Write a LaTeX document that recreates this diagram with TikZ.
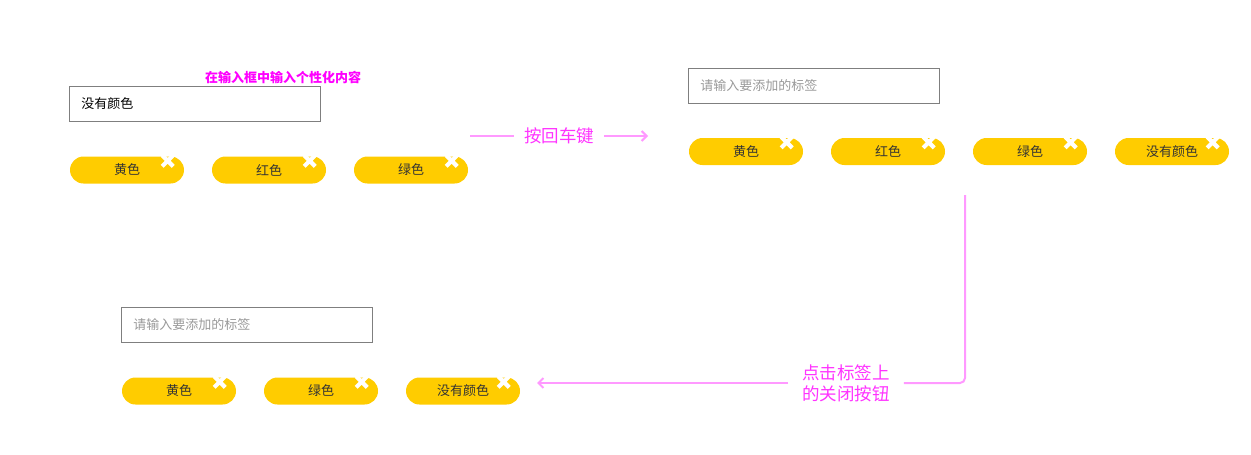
\documentclass[tikz,border=0pt]{standalone}
\usepackage{fontspec}
\setmainfont{Noto Sans CJK SC}
\usetikzlibrary{arrows, arrows.meta, positioning}
\definecolor{tagyellow}{HTML}{FFCC00}
\definecolor{boxgray}{HTML}{7F7F7F}
\definecolor{hintgray}{HTML}{999999}
\definecolor{linkpink}{HTML}{FF99FF}
\definecolor{notemagenta}{HTML}{FF33FF}
\definecolor{titlemagenta}{HTML}{FF00FF}
\newcommand{\closemark}[1]{\draw[closex, shift={(#1.north east)}] (-22,-1) -- (-11,10) (-22,10) -- (-11,-1);}

\begin{document}
\begin{tikzpicture}[x=1pt, y=-1pt, node distance=142pt]
% Define styles
\tikzstyle{inputbox} = [rectangle, draw=boxgray, line width=0.9pt, minimum height=35pt, text width=227pt, inner xsep=12pt, align=left, anchor=west, font=\fontsize{13}{15}\selectfont]
\tikzstyle{tag} = [rectangle, rounded corners=13.5pt, minimum width=114pt, minimum height=27pt, fill=tagyellow, text=black!80, font=\fontsize{13}{15}\selectfont]
\tikzstyle{closex} = [white, line width=4.2pt]
\tikzstyle{link} = [linkpink, line width=2pt]
\tikzstyle{arrow} = [link, ->, >={Straight Barb[length=5pt, width=10pt]}]
\tikzstyle{note} = [text=notemagenta, align=center, font=\fontsize{17.5}{21}\selectfont]

\useasboundingbox (0,0) rectangle (1251,455);

% Nodes
\node (hint) [text=titlemagenta, font=\bfseries\fontsize{13}{15}\selectfont] at (283,77) {在输入框中输入个性化内容};
\node (inputA) [inputbox] at (69,103.5) {没有颜色};
\node (yellowA) [tag] at (127,170) {黄色};
\node (redA) [tag, right of=yellowA] {红色};
\node (greenA) [tag, right of=redA] {绿色};

\node (inputB) [inputbox, text=hintgray] at (688,86) {请输入要添加的标签};
\node (yellowB) [tag] at (746,151.5) {黄色};
\node (redB) [tag, right of=yellowB] {红色};
\node (greenB) [tag, right of=redB] {绿色};
\node (plainB) [tag, right of=greenB] {没有颜色};

\node (inputC) [inputbox, text=hintgray] at (121,324.5) {请输入要添加的标签};
\node (yellowC) [tag] at (179,391) {黄色};
\node (greenC) [tag, right of=yellowC] {绿色};
\node (plainC) [tag, right of=greenC] {没有颜色};

% Close buttons
\closemark{yellowA} \closemark{redA} \closemark{greenA}
\closemark{yellowB} \closemark{redB} \closemark{greenB} \closemark{plainB}
\closemark{yellowC} \closemark{greenC} \closemark{plainC}

% Arrows
\node (enter) [note, inner xsep=10pt] at (559,136) {按回车键};
\coordinate (enterfrom) at (470,136);
\coordinate (enterto) at (648,136);
\draw[link] (enterfrom) -- (enter);
\draw[arrow] (enter) -- (enterto);

\node (remove) [note, inner xsep=14pt] at (846,383) {点击标签上\\的关闭按钮};
\coordinate (removefrom) at (965,195);
\coordinate (removeto) at (537,383);
\draw[link, rounded corners=5pt] (removefrom) |- (remove);
\draw[arrow] (remove) -- (removeto);
\end{tikzpicture}
\end{document}
